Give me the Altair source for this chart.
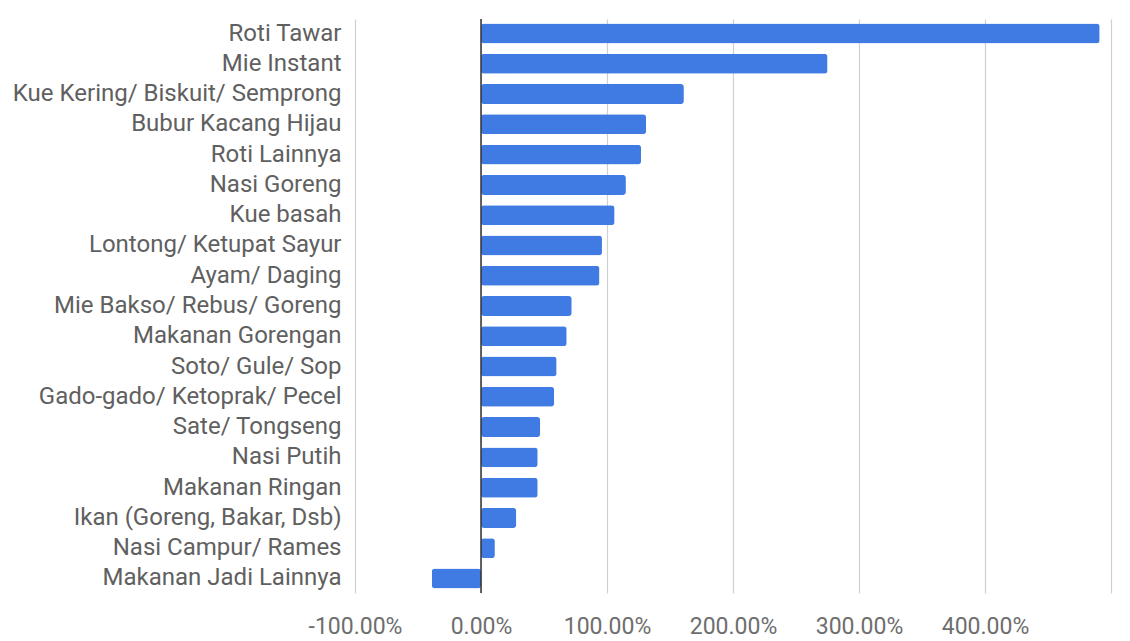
import altair as alt
import pandas as pd

categories = [
    "Roti Tawar", "Mie Instant", "Kue Kering/ Biskuit/ Semprong", "Bubur Kacang Hijau",
    "Roti Lainnya", "Nasi Goreng", "Kue basah", "Lontong/ Ketupat Sayur", "Ayam/ Daging",
    "Mie Bakso/ Rebus/ Goreng", "Makanan Gorengan", "Soto/ Gule/ Sop",
    "Gado-gado/ Ketoprak/ Pecel", "Sate/ Tongseng", "Nasi Putih", "Makanan Ringan",
    "Ikan (Goreng, Bakar, Dsb)", "Nasi Campur/ Rames", "Makanan Jadi Lainnya",
]
values = [491, 275, 161, 131, 127, 115, 106, 96, 94, 72, 68, 60, 58, 47, 45, 45, 28, 11, -39]
tick_values = [-100, 0, 100, 200, 300, 400, 500]

df = pd.DataFrame({"cat": categories, "val": values})

x_scale = alt.Scale(domain=[-100, 500], nice=False)

bars = alt.Chart(df).mark_bar(color="#3f7be3", cornerRadius=3).encode(
    x=alt.X("val:Q", scale=x_scale, axis=alt.Axis(
        values=tick_values, title=None, grid=True, gridColor="#d0d0d0", gridWidth=1.2,
        domain=False, ticks=False, labelFontSize=23, labelColor="#6e6e6e",
        labelFont="Roboto", labelPadding=22, labelFlush=False,
        labelExpr="datum.value == 500 ? '' : (datum.value < 0 ? '-' : '') + format(abs(datum.value), '.2f') + '%'",
    )),
    y=alt.Y("cat:N", sort=categories, scale=alt.Scale(paddingInner=0.34, paddingOuter=0.15), axis=alt.Axis(
        title=None, domain=False, ticks=False, labelFontSize=24, labelColor="#606060",
        labelFont="Roboto", labelPadding=14, labelLimit=500,
    )),
)

zero = alt.Chart(pd.DataFrame({"z": [0]})).mark_rule(color="#333333", strokeWidth=1.5).encode(
    x=alt.X("z:Q", scale=x_scale)
)

chart = alt.layer(bars, zero).properties(
    width=756, height=574,
    padding={"left": 4, "top": 10, "right": 4, "bottom": 4},
).configure(background="white").configure_view(stroke=None)

chart.save("out.html", embed_options={"renderer": "svg", "actions": False})
